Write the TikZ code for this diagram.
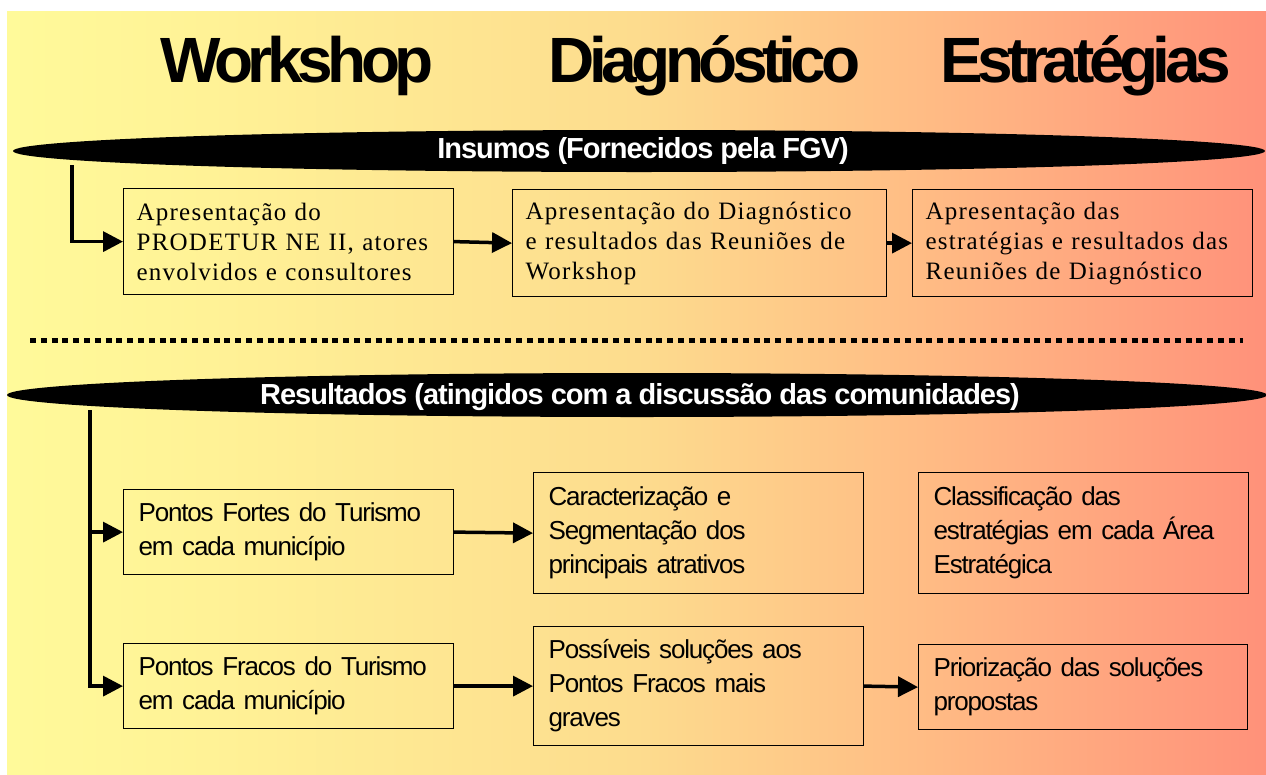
\documentclass[tikz,border=0pt]{standalone}
\usepackage{fontspec}
\setmainfont{Liberation Serif}
\newfontfamily\headfont{Liberation Sans}[LetterSpace=-8.5]
\newfontfamily\bandfont{Liberation Sans}[LetterSpace=-3.5]
\newfontfamily\boxsans{Liberation Sans}[LetterSpace=-4.5]
\newfontfamily\boxserif{Liberation Serif}[LetterSpace=5]
\usetikzlibrary{arrows.meta,shapes.geometric}
\definecolor{g1}{RGB}{255,250,154}
\definecolor{g2}{RGB}{255,242,150}
\definecolor{g3}{RGB}{253,220,142}
\definecolor{g4}{RGB}{255,186,132}
\definecolor{g5}{RGB}{255,145,122}
\pgfdeclarehorizontalshading{bgshade}{100bp}{color(0bp)=(g1); color(25bp)=(g1); color(33bp)=(g2); color(50bp)=(g3); color(62bp)=(g4); color(75bp)=(g5); color(100bp)=(g5)}
\tikzset{
  head/.style={anchor=base west, inner sep=0pt, font=\headfont\bfseries\fontsize{64}{64}\selectfont},
  band/.style={ellipse, fill=black, inner sep=0pt},
  bandtext/.style={text=white, inner sep=0pt, font=\bandfont\bfseries\fontsize{29}{32}\selectfont},
  topbox/.style={draw, line width=1.2pt, anchor=north west, inner xsep=13pt, inner ysep=0pt, align=left, font=\boxserif\fontsize{25}{30}\selectfont},
  lowbox/.style={draw, line width=1.2pt, anchor=north west, inner xsep=15pt, inner ysep=0pt, align=left, font=\boxsans\fontsize{26}{34}\selectfont},
  conn/.style={line width=3.5pt, -{Triangle[length=20pt,width=20pt]}},
  dotline/.style={line width=5pt, dash pattern=on 6pt off 4.8pt}
}
\begin{document}
\begin{tikzpicture}[x=1pt,y=-1pt]
\useasboundingbox (0,0) rectangle (1266,774);
\fill[white] (0,0) rectangle (1266,774);
\shade[shading=bgshade] (7,11) rectangle (1266,774);

% headings
\node[head] (hw) at (160,82) {Workshop};
\node[head] (hd) at (548,82) {Diagnóstico};
\node[head] (he) at (940,82) {Estratégias};

% bands
\node[band, minimum width=1252pt, minimum height=42pt] (ins) at (639,151) {};
\node[bandtext] (inst) at (643,151) {Insumos (Fornecidos pela FGV)};
\node[band, minimum width=1260pt, minimum height=44pt] (res) at (637,395) {};
\node[bandtext] (rest) at (640,397) {Resultados (atingidos com a discussão das comunidades)};

% separator
\draw[dotline] (30,340) -- (1243,340);

% top boxes
\node[topbox, minimum width=330pt, minimum height=106pt, text width=304pt] (b1) at (123,188)
  {Apresentação do\\PRODETUR NE II, atores\\envolvidos e consultores};
\node[topbox, minimum width=374pt, minimum height=107pt, text width=348pt] (b2) at (512,189)
  {Apresentação do Diagnóstico\\e resultados das Reuniões de\\Workshop};
\node[topbox, minimum width=340pt, minimum height=107pt, text width=314pt] (b3) at (912,189)
  {Apresentação das\\estratégias e resultados das\\Reuniões de Diagnóstico};

% lower boxes
\node[lowbox, minimum width=330pt, minimum height=85pt, text width=300pt] (c1) at (123,489)
  {Pontos Fortes do Turismo\\em cada município};
\node[lowbox, minimum width=330pt, minimum height=121pt, text width=300pt] (c2) at (533,472)
  {Caracterização e\\Segmentação dos\\principais atrativos};
\node[lowbox, minimum width=330pt, minimum height=121pt, text width=300pt] (c3) at (918,472)
  {Classificação das\\estratégias em cada Área\\Estratégica};
\node[lowbox, minimum width=330pt, minimum height=85pt, text width=300pt] (d1) at (123,643)
  {Pontos Fracos do Turismo\\em cada município};
\node[lowbox, minimum width=330pt, minimum height=119pt, text width=300pt] (d2) at (533,626)
  {Possíveis soluções aos\\Pontos Fracos mais\\graves};
\node[lowbox, minimum width=329pt, minimum height=85pt, text width=299pt] (d3) at (918,644)
  {Priorização das soluções\\propostas};

% connectors
\coordinate (i1) at (72,165);
\coordinate (r1) at (90,410);
\draw[conn] (i1) |- (b1.west);
\draw[conn] (b1.east) -- (b2.west);
\draw[conn] (b2.east) -- (b3.west);
\draw[conn] (r1) |- (c1.west);
\draw[conn] (r1) |- (d1.west);
\draw[conn] (c1.east) -- (c2.west);
\draw[conn] (d1.east) -- (d2.west);
\draw[conn] (d2.east) -- (d3.west);
\end{tikzpicture}
\end{document}
